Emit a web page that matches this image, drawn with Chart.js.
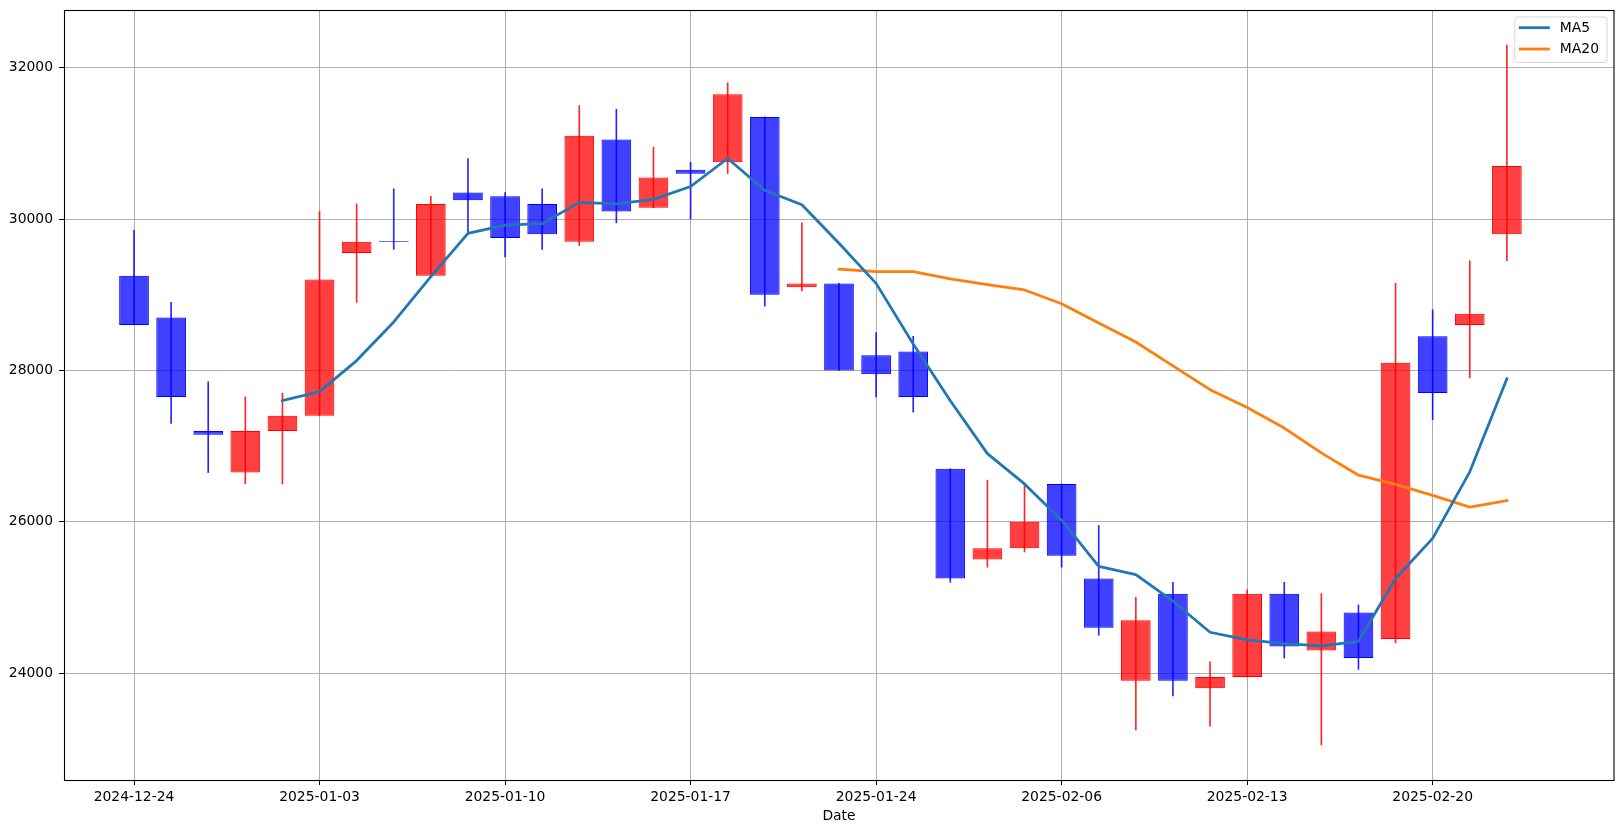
<!DOCTYPE html>
<html>
<head>
<meta charset="utf-8">
<script src="https://cdn.jsdelivr.net/npm/chart.js@4.4.1/dist/chart.umd.min.js"></script>
<style>
html,body{margin:0;padding:0;background:#fff;}
canvas{display:block;}
</style>
</head>
<body>
<canvas id="c" width="1623" height="833"></canvas>
<script>
// ---- data ----
const dates = [
  '2024-12-24','2024-12-25','2024-12-26','2024-12-27','2024-12-30',
  '2025-01-03','2025-01-06','2025-01-07','2025-01-08','2025-01-09',
  '2025-01-10','2025-01-13','2025-01-14','2025-01-15','2025-01-16',
  '2025-01-17','2025-01-20','2025-01-21','2025-01-22','2025-01-23',
  '2025-01-24','2025-01-27','2025-01-28','2025-01-29','2025-01-30',
  '2025-02-06','2025-02-07','2025-02-10','2025-02-11','2025-02-12',
  '2025-02-13','2025-02-14','2025-02-17','2025-02-18','2025-02-19',
  '2025-02-20','2025-02-21','2025-02-24'
];
const opens  = [29250,28700,27200,26650,27200,27400,29550,29710,29250,30350,
                30300,30200,29700,31050,30150,30650,30750,31350,29100,29150,
                28200,28250,26700,25500,25650,26500,25250,23900,25050,23800,
                23950,25050,24300,24800,24450,28450,28600,29800];
const highs  = [29850,28900,27850,27650,27700,30100,30200,30400,30300,30800,
                30350,30400,31500,31450,30950,30750,31800,31350,29950,29150,
                28500,28450,26700,26550,26500,26500,25950,25000,25200,24150,
                25100,25200,25050,24900,29150,28800,29450,32300];
const lows   = [28600,27300,26650,26500,26500,27400,28900,29600,29250,29800,
                29500,29600,29650,29950,30150,30000,30600,28850,29050,28000,
                27650,27450,25200,25400,25600,25400,24500,23250,23700,23300,
                23950,24200,23050,24050,24400,27350,27900,29450];
const closes = [28600,27650,27150,27200,27400,29200,29700,29700,30200,30250,
                29750,29800,31100,30100,30550,30600,31650,29000,29150,28000,
                27950,27650,25250,25650,26000,25550,24600,24700,23900,23950,
                25050,24350,24550,24200,28100,27700,28750,30700];
const ma5  = [null,null,null,null,27600,27720,28130,28640,29240,29810,
              29920,29940,30220,30200,30260,30430,30800,30380,30190,29680,
              29150,28350,27600,26900,26500,26020,25410,25300,24950,24540,
              24440,24390,24360,24420,25250,25780,26660,27890];
const ma20 = [null,null,null,null,null,null,null,null,null,null,
              null,null,null,null,null,null,null,null,null,29338,
              29305,29305,29210,29133,29063,28880,28625,28375,28060,27745,
              27510,27238,26910,26615,26493,26348,26193,26278];
const xTickIdx = [0,5,10,15,20,25,30,35];
const yTicks = [24000,26000,28000,30000,32000];
const seriesNames = ['MA5','MA20'];

// ---- styling ----
const FONT = 'DejaVu Sans';
const FS = 13.9;
const LW = 2.78;
const UP_FILL = 'rgba(255,0,0,0.75)', UP_EDGE = '#ff0000';
const DN_FILL = 'rgba(0,0,255,0.75)', DN_EDGE = '#0000ff';
const isUp = i => closes[i] >= opens[i];

const bodyData = opens.map((o,i) => ({x:i, y:[o, closes[i]]}));
const wickData = lows.map((l,i) => ({x:i, y:[l, highs[i]]}));
const ma5Data  = ma5.map((v,i) => ({x:i, y:v}));
const ma20Data = ma20.map((v,i) => ({x:i, y:v}));

const frameAndLegend = {
  id: 'frameAndLegend',
  afterDraw(chart) {
    const {ctx, chartArea: a} = chart;
    ctx.save();
    // axes frame
    ctx.strokeStyle = '#000';
    ctx.lineWidth = 1.1;
    ctx.strokeRect(Math.round(a.left)+0.5, Math.round(a.top)+0.5,
                   Math.round(a.right-a.left)-1+0.5, Math.round(a.bottom-a.top));
    // legend
    ctx.font = FS + 'px "' + FONT + '"';
    const lines = chart.data.datasets.filter(d => d.type === 'line');
    const tw = Math.max(...lines.map(d => ctx.measureText(d.label).width));
    const boxW = 4 + 31 + 10 + tw + 8;
    const boxH = 45.5;
    const bx = a.right - 7 - boxW, by = a.top + 7;
    const r = 3;
    ctx.beginPath();
    ctx.moveTo(bx + r, by);
    ctx.lineTo(bx + boxW - r, by);
    ctx.arcTo(bx + boxW, by, bx + boxW, by + r, r);
    ctx.lineTo(bx + boxW, by + boxH - r);
    ctx.arcTo(bx + boxW, by + boxH, bx + boxW - r, by + boxH, r);
    ctx.lineTo(bx + r, by + boxH);
    ctx.arcTo(bx, by + boxH, bx, by + boxH - r, r);
    ctx.lineTo(bx, by + r);
    ctx.arcTo(bx, by, bx + r, by, r);
    ctx.closePath();
    ctx.fillStyle = 'rgba(255,255,255,0.8)';
    ctx.fill();
    ctx.strokeStyle = 'rgba(204,204,204,0.8)';
    ctx.lineWidth = 1;
    ctx.stroke();
    lines.forEach((d, k) => {
      const yy = by + 10.7 + k * 21.3;
      ctx.strokeStyle = d.borderColor;
      ctx.lineWidth = LW;
      ctx.lineCap = 'butt';
      ctx.beginPath();
      ctx.moveTo(bx + 4, yy);
      ctx.lineTo(bx + 35, yy);
      ctx.stroke();
      ctx.fillStyle = '#000';
      ctx.textBaseline = 'middle';
      ctx.textAlign = 'left';
      ctx.fillText(d.label, bx + 45, yy + 0.5);
    });
    ctx.restore();
  }
};

const tickFont = {family: FONT, size: FS};

new Chart(document.getElementById('c'), {
  type: 'bar',
  data: {
    datasets: [
      {
        type: 'line', label: seriesNames[0], data: ma5Data,
        borderColor: '#1f77b4', backgroundColor: '#1f77b4',
        borderWidth: LW, pointRadius: 0, tension: 0, spanGaps: false, order: 0,
        borderJoinStyle: 'round', borderCapStyle: 'square'
      },
      {
        type: 'line', label: seriesNames[1], data: ma20Data,
        borderColor: '#ff7f0e', backgroundColor: '#ff7f0e',
        borderWidth: LW, pointRadius: 0, tension: 0, spanGaps: false, order: 0,
        borderJoinStyle: 'round', borderCapStyle: 'square'
      },
      {
        type: 'bar', label: 'body', data: bodyData, grouped: false,
        backgroundColor: bodyData.map((_, i) => isUp(i) ? UP_FILL : DN_FILL),
        borderColor: bodyData.map((_, i) => isUp(i) ? UP_EDGE : DN_EDGE),
        borderWidth: 1, borderSkipped: false,
        categoryPercentage: 1.0, barPercentage: 0.8, order: 1
      },
      {
        type: 'bar', label: 'wick', data: wickData, grouped: false,
        backgroundColor: wickData.map((_, i) => isUp(i) ? 'rgba(255,0,0,0.85)' : 'rgba(0,0,255,0.85)'),
        borderWidth: 0, barThickness: 1, order: 2
      }
    ]
  },
  options: {
    responsive: false,
    animation: false,
    devicePixelRatio: 1,
    layout: {padding: {left: 0, top: 10, right: 9, bottom: 0}},
    plugins: {legend: {display: false}, tooltip: {enabled: false}},
    scales: {
      x: {
        type: 'linear', min: -1.887, max: 39.887, offset: false,
        afterBuildTicks: s => { s.ticks = xTickIdx.map(v => ({value: v})); },
        afterFit: s => { s.height = 53; s.paddingLeft = 0; s.paddingRight = 0; },
        ticks: {
          callback: v => dates[v], color: '#000', font: tickFont,
          padding: 4, maxRotation: 0, autoSkip: false
        },
        grid: {color: '#b0b0b0', lineWidth: 1, offset: false, tickLength: 5, tickColor: '#000', tickWidth: 1},
        border: {display: false},
        title: {display: true, text: 'Date', color: '#000', font: tickFont, padding: {top: 0, bottom: 8}}
      },
      y: {
        type: 'linear', min: 22587.5, max: 32762.5,
        afterBuildTicks: s => { s.ticks = yTicks.map(v => ({value: v})); },
        afterFit: s => { s.width = 64; s.paddingTop = 0; s.paddingBottom = 0; },
        ticks: {callback: v => String(v), color: '#000', font: tickFont, padding: 6},
        grid: {color: '#b0b0b0', lineWidth: 1, tickLength: 5, tickColor: '#000', tickWidth: 1},
        border: {display: false}
      }
    }
  },
  plugins: [frameAndLegend]
});
</script>
</body>
</html>
